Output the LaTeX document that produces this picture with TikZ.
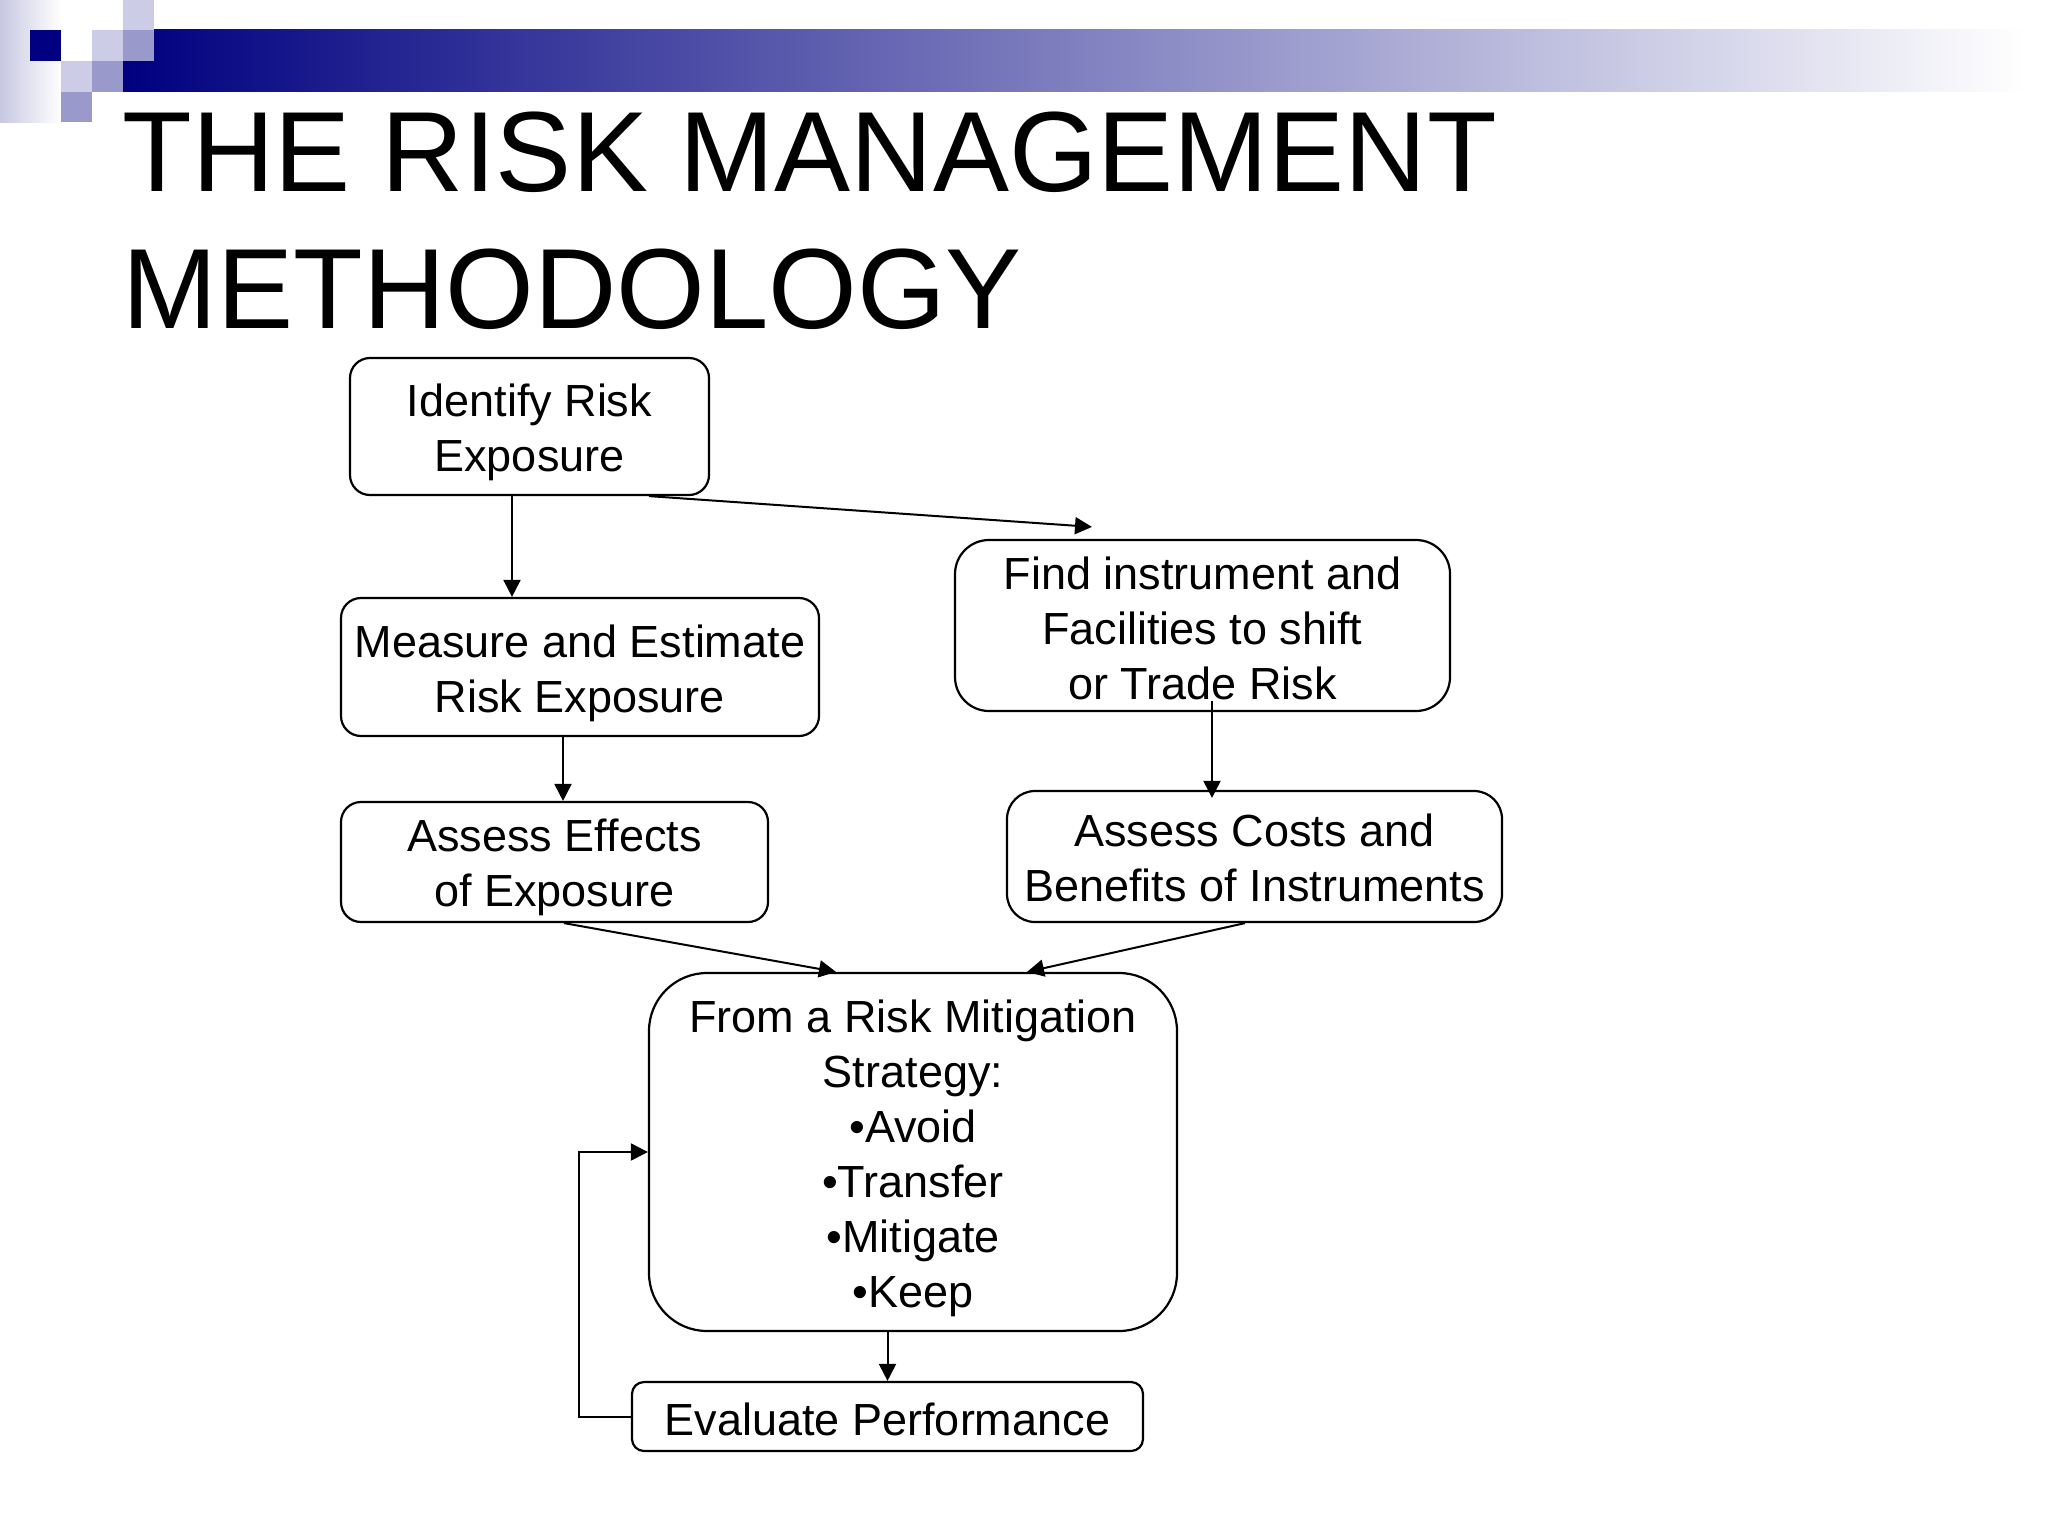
\documentclass[tikz,border=0pt]{standalone}
\usepackage{fontspec}
\setmainfont{Liberation Sans}
\usetikzlibrary{arrows.meta,calc}
\definecolor{navyblue}{RGB}{0,0,128}
\definecolor{lightlav}{RGB}{204,204,230}
\definecolor{midlav}{RGB}{153,153,204}
\definecolor{paledge}{RGB}{200,200,226}
\newcommand{\boxfont}{\fontsize{22.5}{27.5}\selectfont}
\newcommand{\titlefont}{\fontsize{57}{68.5}\selectfont}
\newcommand{\lift}[1]{\rule{0pt}{#1}}

\begin{document}
\begin{tikzpicture}[x=0.5pt,y=-0.5pt, step box/.style={draw,line width=1.1pt,rounded corners=10pt,align=center,font=\boxfont,inner sep=0pt}, conn/.style={draw,line width=1pt,-{Triangle[length=8.5pt,width=8.5pt]}}]
  \useasboundingbox (0,0) rectangle (2048,1536);
  \fill[white] (0,0) rectangle (2048,1536);
  % header bar and squares
  \shade[left color=paledge,right color=white] (0,0) rectangle (61,122);
  \shade[left color=navyblue,right color=white] (123,30) rectangle (2025,92);
  \fill[navyblue] (30,30) rectangle (61,61);
  \fill[lightlav] (123,0) rectangle (154,30);
  \fill[lightlav] (92,30) rectangle (123,61);
  \fill[midlav] (123,30) rectangle (154,61);
  \fill[lightlav] (61,61) rectangle (92,92);
  \fill[midlav] (92,61) rectangle (123,92);
  \fill[midlav] (61,92) rectangle (92,122);
  \node (title)[anchor=base west,align=left,inner sep=0pt,font=\titlefont] at (122,328) {THE RISK MANAGEMENT\\METHODOLOGY};
  % boxes
  \node (ident)[step box,minimum width=179.5pt,minimum height=68.5pt] at (529.5,426.5) {\lift{22.4pt}Identify Risk\\Exposure};
  \node (measure)[step box,minimum width=239pt,minimum height=69pt] at (580,667) {\lift{23pt}Measure and Estimate\\Risk Exposure};
  \node (effects)[step box,minimum width=213.5pt,minimum height=60pt] at (554.5,862) {\lift{21.6pt}Assess Effects\\of Exposure};
  \node (find)[step box,rounded corners=17pt,minimum width=247.5pt,minimum height=85.5pt] at (1202.5,625.5) {\lift{19pt}Find instrument and\\Facilities to shift\\or Trade Risk};
  \node (costs)[step box,rounded corners=14pt,minimum width=247.5pt,minimum height=65.5pt] at (1254.5,856.5) {\lift{17.8pt}Assess Costs and\\Benefits of Instruments};
  \node (strat)[step box,rounded corners=29pt,minimum width=264pt,minimum height=179pt] at (913,1152) {\lift{23pt}From a Risk Mitigation\\Strategy:\\•Avoid\\•Transfer\\•Mitigate\\•Keep};
  \node (evalp)[step box,rounded corners=6pt,minimum width=255.5pt,minimum height=34.5pt] at (887.5,1416.5) {\lift{19pt}Evaluate Performance};
  % connectors
  \draw[conn] ($(ident.south)+(-17.5,0)$) -- ($(measure.north)+(-68,0)$);
  \draw[conn] ($(ident.south)+(119.5,0)$) -- ($(find.north)+(-110.5,-12)$);
  \draw[conn] ($(measure.south)+(-17,0)$) -- ($(effects.north)+(8.5,0)$);
  \draw[conn] ($(find.south)+(9.5,-11)$) -- ($(costs.north)+(-42.5,8)$);
  \draw[conn] ($(effects.south)+(9.5,0)$) -- ($(strat.north)+(-77,0)$);
  \draw[conn] ($(costs.south)+(-9.5,0)$) -- ($(strat.north)+(114,0)$);
  \draw[conn] (evalp.north |- strat.south) -- (evalp.north);
  \draw[conn] (evalp.west) -- ++(-52,0) |- (strat.west);
\end{tikzpicture}
\end{document}
